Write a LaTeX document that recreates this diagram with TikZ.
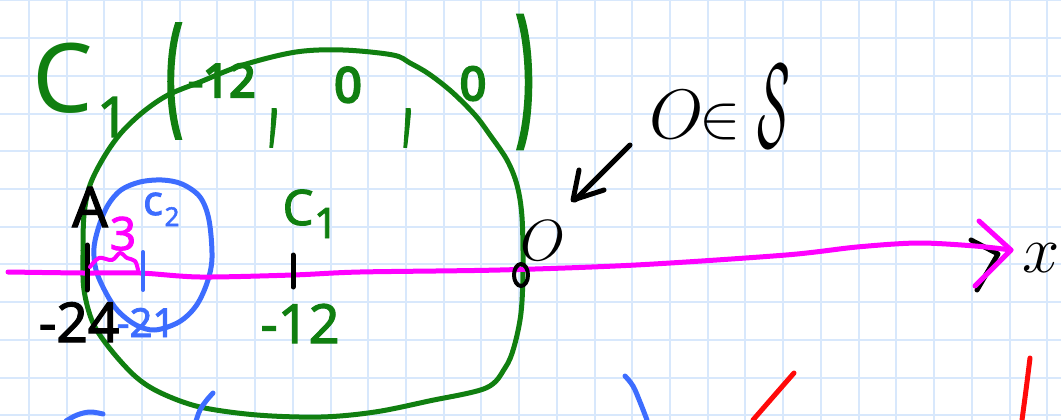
\RequirePackage{fix-cm}
\documentclass[tikz,border=0pt]{standalone}
\usepackage{fontspec}
\usepackage{graphicx}
\setmainfont{Noto Sans}
\newfontfamily\penfont{Noto Sans}[FakeBold=2]
\newfontfamily\heavypen{Noto Sans}[FakeBold=5]
\newcommand\hfs[1]{\fontsize{#1}{#1}\selectfont}
\definecolor{gridc}{HTML}{D8E8FC}
\definecolor{pgreen}{HTML}{107F10}
\definecolor{pblue}{HTML}{3D6DFF}
\definecolor{pmag}{HTML}{FF00FF}
\definecolor{pred}{HTML}{FF0A0A}
\tikzset{
  pen/.style={line width=5pt, line cap=round, line join=round},
  thinpen/.style={line width=4pt, line cap=round, line join=round},
  lbl/.style={inner sep=0pt, outer sep=0pt, anchor=base},
  glyph/.style={inner sep=0pt, outer sep=0pt, anchor=center},
  gridline/.style={gridc, line width=2pt},
}
\begin{document}
\begin{tikzpicture}[x=1pt, y=-1pt]
\useasboundingbox (0,0) rectangle (1061,420);
\fill[white] (0,0) rectangle (1061,420);
% grid paper
\foreach \i in {0,...,27} \draw[gridline] ({28.8+37.72*\i},0) -- ({28.8+37.72*\i},420);
\foreach \j in {0,...,11} \draw[gridline] (0,{0.4+37.72*\j}) -- (1061,{0.4+37.72*\j});

% big green circle C1
\draw[pen, pgreen] plot[smooth cycle, tension=0.55] coordinates {
 (104,157) (121,133) (143,112) (168,95) (200,82) (243,65) (296,52) (343,50)
 (393,55) (410,63) (429,74) (452,92) (475,115) (490,135) (507,160) (517,185)
 (522,217) (523,270) (521,313) (514,347) (505,368) (486,388) (429,401) (375,412)
 (321,417) (257,415) (200,407) (161,393) (136,377) (111,350) (93,323) (84,290)
 (83,255) (84,215) (90,185)};

% blue circle c2
\draw[pen, pblue] plot[smooth cycle, tension=0.55] coordinates {
 (140,182) (162,180) (182,184) (200,197) (209,220) (212,258) (207,283)
 (196,306) (179,322) (155,330) (136,325) (118,311) (106,293) (96,270)
 (94,248) (99,226) (108,205) (121,190)};

% black arrowhead under the magenta one
\draw[pen, black] (971,240) -- (998,254) -- (977,290);
% magenta x axis
\draw[pen, pmag] plot[smooth, tension=0.5] coordinates {
 (8,272) (83,273) (140,273) (200,277) (293,275) (360,272) (500,270)
 (636,265) (786,255) (857,247) (918,243) (975,246) (1011,250)};
\draw[pen, pmag] (979,221) -- (1011,250) -- (975,286);

% ticks
\draw[pen, black] (87,245) -- (87,290);
\draw[pen, black] (293,255) -- (293,287);
\draw[thinpen, pblue] (143,252) -- (143,290);

% brace for 3
\draw[thinpen, pmag] plot[smooth, tension=0.6] coordinates {
 (90,267) (99,258) (112,260) (120,253) (127,258) (135,261) (138,270)};

% small black loop at O
\draw[thinpen, black] (521,275) ellipse [x radius=7, y radius=11];

% arrow pointing at O
\draw[pen, black] (630,145) -- (575,200);
\draw[pen, black] (579,170) -- (573,200) -- (604,190);

% partial strokes at the bottom
\draw[pen, pblue] plot[smooth, tension=0.6] coordinates {(625,376) (633,386) (640,402) (647,420)};
\draw[pen, pred] plot[smooth, tension=0.6] coordinates {(794,373) (773,397) (753,420)};
\draw[pen, pred] plot[smooth, tension=0.6] coordinates {(1030,358) (1026,390) (1022,420)};
\draw[pen, pblue] plot[smooth, tension=0.6] coordinates {(103,414) (90,412) (77,415) (66,421)};
\draw[pen, pblue] plot[smooth, tension=0.6] coordinates {(213,393) (206,401) (200,410) (196,421)};

% title C1(-12, 0, 0)
\node[lbl, text=pgreen, font={\hfs{96}}] (tC) at (63,112) {C};
\node[lbl, text=pgreen, font={\penfont\hfs{56}}] (tC1) at (113,137) {1};
\node[glyph, text=pgreen, font={\heavypen\hfs{50}}] (tlp) at (174,81) {\scalebox{1}[2.55]{(}};
\node[lbl, text=pgreen, font={\heavypen\hfs{46}}] (tm12) at (222,97) {-12};
\node[glyph, text=pgreen, font={\penfont\hfs{44}}] (tc1) at (274,128) {\scalebox{1}[3.4]{,}};
\node[lbl, text=pgreen, font={\heavypen\hfs{48}}] (t01) at (348,102) {0};
\node[glyph, text=pgreen, font={\penfont\hfs{44}}] (tc2) at (408,128) {\scalebox{1}[3.4]{,}};
\node[lbl, text=pgreen, font={\heavypen\hfs{46}}] (t02) at (473,100) {0};
\node[glyph, text=pgreen, font={\heavypen\hfs{54}}] (trp) at (525,82) {\scalebox{1}[2.75]{)}};

% labels on the axis
\node[lbl, text=black, font={\penfont\hfs{56}}] (lA) at (90,227) {A};
\node[lbl, text=pmag, font={\penfont\hfs{46}}] (l3) at (123,250) {3};
\node[lbl, text=pblue, font={\penfont\hfs{41}}] (lc) at (153,215) {c};
\node[lbl, text=pblue, font={\penfont\hfs{26}}] (lc2) at (172,226) {2};
\node[lbl, text=pgreen, font={\penfont\hfs{49}}] (lC) at (298,225) {C};
\node[lbl, text=pgreen, font={\penfont\hfs{42}}] (lC1) at (326,238) {1};
\node[lbl, text=black, font={\penfont\hfs{55}}] (lm24) at (79,342) {-24};
\node[lbl, text=pblue, font={\penfont\hfs{40}}] (lm21) at (146,337) {-21};
\node[lbl, text=pgreen, font={\penfont\hfs{54}}] (lm12) at (300,343) {-12};
\node[lbl, text=black, font={\hfs{58}}] (lO) at (543,260) {$O$};
\node[lbl, text=black, font={\hfs{67}}] (lx) at (1041,272) {$x$};
% O in S
\node[glyph, text=black, font={\hfs{70}}] (sO) at (677,115) {$O$};
\node[glyph, text=black, font={\hfs{62}}] (sin) at (720,122) {$\in$};
\node[glyph, text=black, font={\hfs{80}}] (sS) at (774,106) {\scalebox{0.6}[1.5]{$\mathcal{S}$}};
\end{tikzpicture}
\end{document}
